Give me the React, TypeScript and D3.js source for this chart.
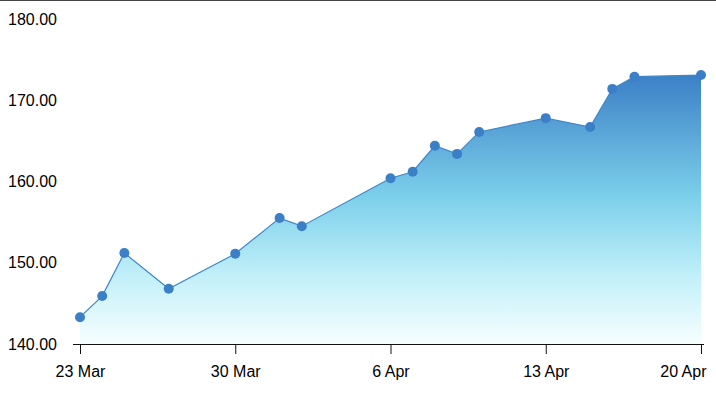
import React, { useEffect, useRef } from 'react';
import * as d3 from 'd3';

const dates = [
  '2020-03-23', '2020-03-24', '2020-03-25', '2020-03-27', '2020-03-30',
  '2020-04-01', '2020-04-02', '2020-04-06', '2020-04-07', '2020-04-08',
  '2020-04-09', '2020-04-10', '2020-04-13', '2020-04-15', '2020-04-16',
  '2020-04-17', '2020-04-20',
];
const prices = [
  143.3, 145.9, 151.2, 146.8, 151.1,
  155.5, 154.5, 160.4, 161.2, 164.4,
  163.4, 166.1, 167.8, 166.7, 171.4,
  172.9, 173.1,
];
const yTicks = [140, 150, 160, 170, 180];
const xTickDates = ['2020-03-23', '2020-03-30', '2020-04-06', '2020-04-13', '2020-04-20'];

const W = 716;
const H = 393;
const FONT = "'Liberation Sans', Arial, sans-serif";

const App: React.FC = () => {
  const ref = useRef<SVGSVGElement>(null);

  useEffect(() => {
    if (!ref.current) return;
    const svg = d3.select(ref.current);
    svg.selectAll('*').remove();

    const parse = d3.utcParse('%Y-%m-%d');
    const data = dates.map((d, i) => ({ date: parse(d) as Date, value: prices[i] }));

    const x = d3.scaleUtc()
      .domain([parse(dates[0]) as Date, parse(dates[dates.length - 1]) as Date])
      .range([80, 701]);
    const y = d3.scaleLinear().domain([140, 180]).range([344, 19]);

    const defs = svg.append('defs');
    const grad = defs.append('linearGradient')
      .attr('id', 'areaFill')
      .attr('gradientUnits', 'userSpaceOnUse')
      .attr('x1', 0).attr('x2', 0)
      .attr('y1', y(d3.max(prices) as number)).attr('y2', y(140));
    grad.append('stop').attr('offset', '0%').attr('stop-color', '#3b80c6');
    grad.append('stop').attr('offset', '45%').attr('stop-color', '#7ccfea');
    grad.append('stop').attr('offset', '75%').attr('stop-color', '#c2f0f9');
    grad.append('stop').attr('offset', '100%').attr('stop-color', '#f7feff');

    // top border
    svg.append('line')
      .attr('x1', 0).attr('x2', W)
      .attr('y1', 0.5).attr('y2', 0.5)
      .attr('stroke', '#444')
      .attr('stroke-width', 1);

    const area = d3.area<typeof data[0]>()
      .x(d => x(d.date))
      .y0(y(140))
      .y1(d => y(d.value));

    const line = d3.line<typeof data[0]>()
      .x(d => x(d.date))
      .y(d => y(d.value));

    svg.append('path')
      .datum(data)
      .attr('fill', 'url(#areaFill)')
      .attr('d', area);

    svg.append('path')
      .datum(data)
      .attr('fill', 'none')
      .attr('stroke', '#3f86c8')
      .attr('stroke-width', 1.2)
      .attr('d', line);

    svg.append('g')
      .selectAll('circle')
      .data(data)
      .enter().append('circle')
        .attr('cx', d => x(d.date))
        .attr('cy', d => y(d.value))
        .attr('r', 5)
        .attr('fill', '#3b80c6');

    // y labels
    svg.append('g')
      .attr('font-family', FONT)
      .attr('font-size', 16)
      .attr('fill', '#000')
      .selectAll('text')
      .data(yTicks)
      .enter().append('text')
        .attr('x', 8)
        .attr('y', d => y(d))
        .attr('dy', '0.35em')
        .text(d => d3.format('.2f')(d));

    // x axis
    const xAxis = d3.axisBottom(x)
      .tickValues(xTickDates.map(d => parse(d) as Date))
      .tickFormat(d => d3.utcFormat('%-d %b')(d as Date))
      .tickSizeInner(10)
      .tickSizeOuter(0);

    const gx = svg.append('g')
      .attr('transform', `translate(0,${y(140)})`)
      .call(xAxis);
    gx.select('.domain').attr('d', `M73,0.5H704`).attr('stroke', '#111');
    gx.selectAll('.tick line').attr('stroke', '#111');
    gx.selectAll<SVGTextElement, Date>('.tick text')
      .attr('font-family', FONT)
      .attr('font-size', 16)
      .attr('fill', '#000')
      .attr('dy', '1.25em')
      .attr('text-anchor', (_d, i) => (i === xTickDates.length - 1 ? 'end' : 'middle'))
      .attr('x', (_d, i) => (i === xTickDates.length - 1 ? 5 : 0));
  }, []);

  return (
    <svg
      ref={ref}
      width={W}
      height={H}
      style={{ position: 'absolute', left: 0, top: 0, background: '#fff' }}
    />
  );
};

export default App;
